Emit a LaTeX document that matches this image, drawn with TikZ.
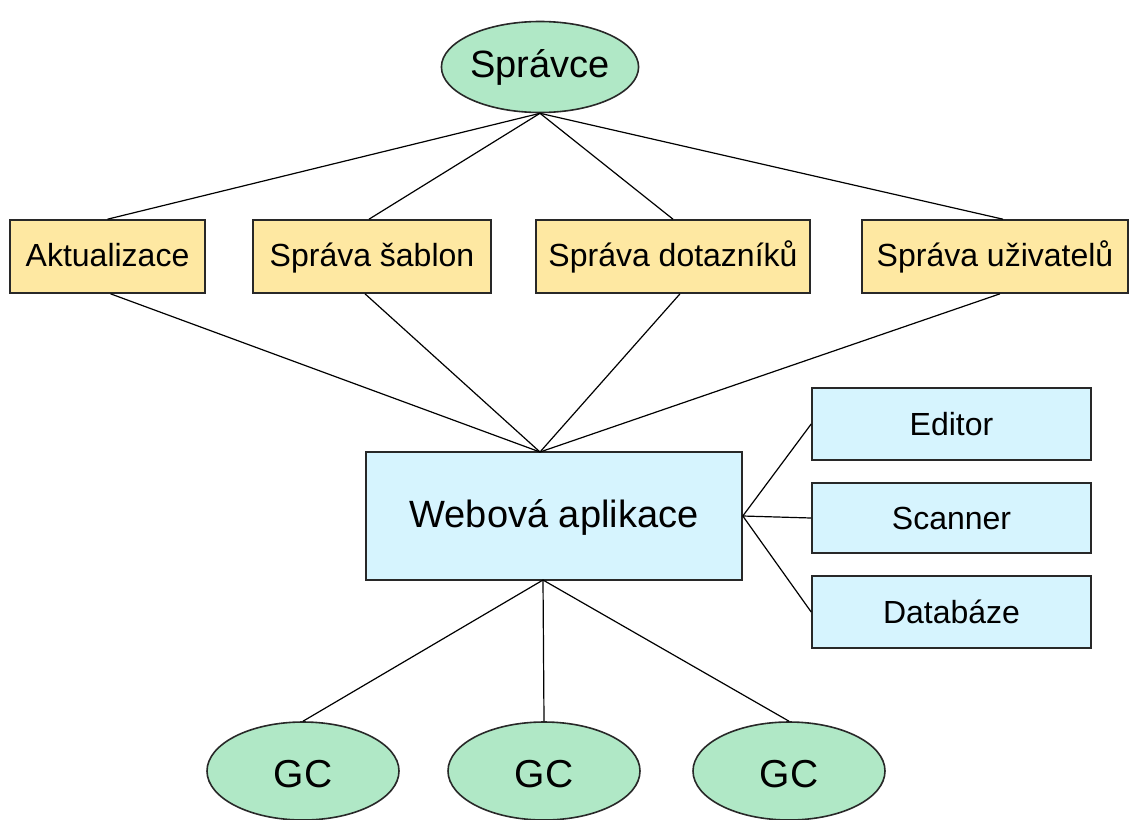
\documentclass[tikz,border=0pt]{standalone}
\usepackage{fontspec}
\setmainfont{Liberation Sans}
\usetikzlibrary{shapes.geometric}
\definecolor{elfill}{RGB}{176,232,198}
\definecolor{ybox}{RGB}{254,232,162}
\definecolor{bbox}{RGB}{214,244,254}
\definecolor{edge}{RGB}{40,40,40}
\begin{document}
\begin{tikzpicture}[x=1pt,y=-1pt,
  ell/.style={ellipse,draw=edge,line width=1.6pt,fill=elfill,inner sep=0pt,font=\fontsize{38}{44}\selectfont},
  ybx/.style={rectangle,draw=edge,line width=1.6pt,fill=ybox,inner sep=0pt,text height=22.5pt,text depth=3pt,font=\fontsize{32}{38}\selectfont},
  bbx/.style={rectangle,draw=edge,line width=1.6pt,fill=bbox,inner sep=0pt,text height=26pt,text depth=3pt,font=\fontsize{32}{38}\selectfont},
  conn/.style={draw=black,line width=1.2pt}]
\useasboundingbox (0,0) rectangle (1131,819);
\coordinate (top) at (540,452);
\coordinate (bot) at (543,580);
\node[ell,minimum width=194,minimum height=91,text height=24pt,text depth=4pt] (sp) at (540,67) {Správce};
\node[ybx,minimum width=195,minimum height=73] (a1) at (107.5,256.5) {Aktualizace};
\node[ybx,minimum width=238,minimum height=73] (a2) at (372,256.5) {Správa šablon};
\node[ybx,minimum width=274,minimum height=73] (a3) at (673,256.5) {Správa dotazníků};
\node[ybx,minimum width=266,minimum height=73] (a4) at (995,256.5) {Správa uživatelů};
\node[bbx,minimum width=376,minimum height=128,text height=26pt,text depth=4pt,font=\fontsize{38}{46}\selectfont] (web) at (554,516) {Webová aplikace};
\node[bbx,minimum width=279,minimum height=72] (ed) at (951.5,424) {Editor};
\node[bbx,minimum width=279,minimum height=70] (sc) at (951.5,518) {Scanner};
\node[bbx,minimum width=279,minimum height=72] (db) at (951.5,612) {Databáze};
\node[ell,minimum width=192,minimum height=98,text height=34pt,text depth=2pt,font=\fontsize{39}{46}\selectfont] (g1) at (303,771) {GC};
\node[ell,minimum width=192,minimum height=98,text height=34pt,text depth=2pt,font=\fontsize{39}{46}\selectfont] (g2) at (544,771) {GC};
\node[ell,minimum width=192,minimum height=98,text height=34pt,text depth=2pt,font=\fontsize{39}{46}\selectfont] (g3) at (789,771) {GC};
\draw[conn] (sp.south) -- (a1.north);
\draw[conn] (sp.south) -- ([xshift=-3]a2.north);
\draw[conn] (sp.south) -- (a3.north);
\draw[conn] (sp.south) -- ([xshift=8]a4.north);
\draw[conn] ([xshift=3]a1.south) -- (top);
\draw[conn] ([xshift=-7]a2.south) -- (top);
\draw[conn] ([xshift=7]a3.south) -- (top);
\draw[conn] ([xshift=5]a4.south) -- (top);
\draw[conn] (web.east) -- (ed.west);
\draw[conn] (web.east) -- (sc.west);
\draw[conn] (web.east) -- (db.west);
\draw[conn] (bot) -- (g1.north);
\draw[conn] (bot) -- (g2.north);
\draw[conn] (bot) -- (g3.north);
\end{tikzpicture}
\end{document}
